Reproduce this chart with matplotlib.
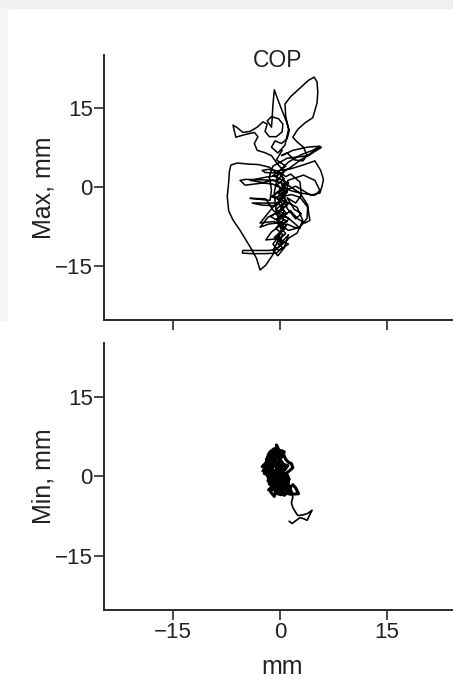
import numpy as np
import matplotlib.pyplot as plt
from matplotlib.patches import Rectangle

plt.rcParams['font.family'] = ['Liberation Sans', 'DejaVu Sans']

# centre-of-pressure trace, "Max" condition, (x, y) in mm
top_trace = [
    (0.3, 2.0), (0.8, 0.5), (-0.2, -1.0), (0.9, -2.5), (0.1, -4.0), (1.0, -5.0), (-0.5, -6.0),
    (0.6, -7.5), (-0.3, -9.0), (0.5, -10.5), (-0.6, -11.8), (-1.5, -12.0), (-3.5, -12.0),
    (-5.2, -12.0), (-5.3, -12.5), (-4.0, -12.6), (-2.0, -12.6), (-0.5, -12.5), (0.3, -11.5),
    (-0.2, -10.0), (0.8, -8.8), (0.0, -7.5), (1.0, -6.5), (-0.7, -5.0), (-1.7, -5.7),
    (-2.8, -7.6), (-1.6, -7.0), (-0.5, -6.8), (0.6, -4.5), (-0.2, -3.0), (-1.4, -3.0),
    (-3.9, -3.0), (-2.5, -3.4), (-0.5, -3.5), (0.5, -2.0), (-0.1, 0.0), (-1.0, 0.6),
    (-2.4, 0.8), (-4.9, 0.4), (-5.6, 1.3), (-4.8, 1.5), (-2.5, 1.4), (-0.3, 1.3), (0.6, 3.0),
    (-0.4, 4.5), (-1.2, 6.0), (-2.2, 6.6), (-3.2, 7.0), (-3.6, 8.3), (-3.1, 9.6),
    (-3.6, 10.4), (-4.9, 10.0), (-6.2, 9.5), (-6.6, 11.8), (-6.0, 11.3), (-5.2, 10.4),
    (-4.2, 10.6), (-3.2, 11.4), (-2.4, 12.4), (-1.8, 12.0), (-2.1, 10.6), (-1.5, 9.6),
    (-0.5, 9.6), (0.3, 10.5), (0.4, 12.0), (-0.2, 13.0), (-1.2, 13.4), (-1.8, 12.6),
    (-1.2, 11.4), (-1.1, 13.0), (-1.0, 15.5), (-0.8, 18.5), (-0.4, 17.0), (0.3, 14.5),
    (0.9, 12.5), (1.3, 10.8), (1.0, 9.2), (0.2, 8.3), (-0.7, 8.8), (-1.2, 7.6), (-0.3, 6.5),
    (0.7, 8.0), (1.2, 11.0), (0.8, 13.5), (0.7, 15.8), (1.5, 17.2), (2.8, 18.8), (4.0, 20.3),
    (4.8, 20.9), (5.2, 20.0), (5.3, 18.0), (5.2, 16.0), (4.6, 13.2), (3.5, 12.2), (2.5, 11.0),
    (1.8, 9.5), (2.4, 8.6), (3.3, 7.6), (3.8, 6.0), (3.2, 5.0), (2.0, 5.2), (1.0, 6.5),
    (0.2, 6.0), (1.8, 7.0), (3.8, 7.6), (5.6, 7.8), (4.6, 7.0), (3.0, 6.2), (1.2, 4.8),
    (0.0, 3.2), (1.5, 3.5), (3.2, 4.2), (4.9, 5.0), (5.7, 3.2), (6.1, 1.5), (5.9, 0.2),
    (5.6, -1.1), (4.3, -1.5), (3.2, -0.6), (2.2, 0.2), (1.1, -0.4), (0.2, -1.8), (1.6, -1.4),
    (2.8, -1.9), (3.9, -3.8), (4.2, -6.3), (3.5, -6.8), (2.5, -6.0), (1.5, -4.5), (0.3, -5.5),
    (1.0, -5.7), (2.0, -6.8), (2.8, -7.8), (2.0, -7.6), (1.0, -7.0), (0.1, -8.5), (-0.8, -9.5),
    (0.4, -10.2), (1.2, -9.0), (0.6, -11.5), (-0.3, -13.0), (-1.0, -12.0), (-0.5, -10.8),
    (0.2, -8.0), (-0.6, -4.0), (-0.8, -1.0), (-0.5, 1.0), (-0.3, 2.5), (-1.5, 3.8),
    (-3.0, 4.3), (-4.5, 4.4), (-6.0, 4.6), (-6.9, 4.2), (-7.1, 3.0), (-7.2, 1.0), (-7.4, -1.8),
    (-7.2, -4.5), (-6.6, -6.2), (-5.6, -8.2), (-4.2, -11.3), (-3.3, -13.5), (-2.8, -15.7),
    (-2.0, -14.8), (-1.4, -13.6), (-1.0, -12.8), (-0.7, -12.0), (0.3, -10.8), (-0.4, -9.2),
    (0.6, -8.0), (-0.3, -6.5), (0.8, -5.2), (-0.6, -4.2), (0.4, -3.2), (-0.5, -2.0),
    (0.7, -0.8), (-0.4, 0.5), (0.6, 1.6), (-0.2, 2.7), (-2.1, 2.8), (-2.5, 3.2), (-1.6, 3.4),
    (-0.3, 3.1), (0.8, 2.0), (1.5, 2.5), (2.8, 1.0), (3.0, -1.5), (2.2, -3.0), (1.0, -2.0),
    (2.0, -4.2), (3.0, -5.0), (2.2, -6.0), (1.0, -4.0), (0.2, 0.8), (1.0, -0.5), (-0.2, -1.5),
    (0.9, -3.5), (-0.2, -4.8), (0.5, -6.2), (-0.6, -7.8), (0.4, -9.0), (-0.4, -10.5),
    (0.0, -11.2), (1.4, -9.5), (2.4, -8.7), (3.2, -6.3), (2.4, -3.8), (0.4, -2.5), (-1.0, -1.6),
    (0.8, -0.2), (1.4, -0.6), (2.8, -1.1), (3.9, -3.4), (3.8, -5.9), (2.8, -7.6), (1.2, -8.2),
    (-0.8, -6.5), (-2.8, -6.8), (-1.0, -3.8), (1.0, -1.0), (1.1, 1.3), (3.3, 2.3), (4.9, 1.3),
    (5.6, -0.6), (4.9, -1.5), (2.8, -1.1), (1.0, 0.5), (-1.0, 1.3), (-2.4, 0.9), (-4.2, 1.3),
    (-2.0, 1.9), (-0.5, 2.2), (1.2, 3.5), (2.8, 5.1), (4.6, 6.7), (5.8, 7.6), (4.0, 6.0),
    (1.0, 5.5), (-1.0, 4.0), (-1.5, 2.0), (-1.2, -0.5), (-1.4, -2.5), (-4.2, -2.1),
    (-2.0, -2.2), (-0.9, -4.5), (1.3, -6.0), (-1.2, -8.5), (-2.0, -10.0), (-0.5, -9.8),
    (1.2, -10.8), (-0.2, -12.0), (-1.0, -10.8), (0.9, -7.2), (-1.3, -5.6), (1.3, -3.0),
    (-1.2, -1.8), (1.2, 0.8), (-1.0, 2.2), (0.8, 4.0), (-0.5, 5.2), (0.3, 7.0),
]

# centre-of-pressure trace, "Min" condition, (x, y) in mm: dense cluster, then its tail
bottom_blob = [
    (0.0, 1.0), (-1.0, 2.5), (-0.3, 4.0), (-0.5, 5.9), (0.1, 4.2), (0.6, 4.6), (0.2, 3.5),
    (-1.2, 3.8), (-1.8, 2.8), (-2.5, 1.8), (-1.9, 1.5), (-2.4, 1.0), (-1.6, 1.2), (-2.2, 0.5),
    (-1.0, 0.0), (-1.5, -1.5), (-0.6, -0.5), (-1.3, -3.0), (-0.8, -3.8), (-0.5, -2.0),
    (0.4, -1.0), (-0.2, 0.8), (0.8, 1.5), (0.2, 2.8), (-0.8, 1.8), (-1.9, 3.2), (-1.0, 4.6),
    (0.3, 4.8), (0.8, 3.2), (1.2, 2.6), (1.6, 2.4), (1.8, 1.6), (1.3, 1.0), (0.9, 0.6),
    (1.3, -0.6), (0.3, -1.8), (1.0, -2.6), (1.8, -1.6), (2.2, -2.2), (2.6, -3.3), (1.5, -3.4),
    (0.3, -3.0), (-0.9, -2.5), (-1.7, -0.8), (-0.7, 0.6), (-1.9, 1.9), (-1.2, 3.0), (-0.2, 2.0),
    (0.6, 0.2), (-0.4, -0.6), (-1.4, 0.8), (-0.5, 3.3), (0.5, 4.0), (-0.3, 5.0), (-1.6, 4.2),
    (-2.0, 2.2), (-1.0, 1.2), (0.1, -0.2), (-0.9, -1.2), (-0.2, -2.8), (0.8, -2.0), (1.2, -1.0),
    (0.4, 0.8), (1.1, 2.0), (0.0, 2.4), (-1.3, 2.0), (-1.8, 0.2), (-1.1, -2.0), (-1.6, -2.6),
    (-0.4, -1.4), (0.6, -1.2), (-0.1, 1.5), (-1.5, 2.6), (-0.6, 3.8), (-1.4, 4.6), (-0.8, 5.2),
    (0.0, 3.0), (-0.6, 1.0), (0.5, -0.5), (-0.6, -3.2), (0.2, -3.5), (1.0, -1.5), (-0.3, 0.3),
    (-1.2, -0.4), (-2.0, 1.2), (-1.3, 2.4), (-0.3, 3.6), (0.4, 2.2), (-0.7, -0.2), (0.2, -1.2),
    (1.5, -2.4), (0.6, -3.6), (-0.5, -1.0), (-1.4, 1.6), (-0.9, 3.4), (0.2, 1.6), (1.6, -3.0),
]
bottom_tail = [
    (1.6, -3.0), (1.8, -4.0), (1.6, -5.0), (1.8, -5.9), (2.2, -6.8), (2.5, -7.4), (3.2, -7.3),
    (3.9, -7.0), (4.5, -6.4), (4.2, -7.2), (3.8, -8.3), (3.3, -8.0), (2.8, -7.8), (2.2, -8.4),
    (1.7, -8.9), (1.3, -8.5),
]

ticks = [-15, 0, 15]
tick_labels = ['\u221215', '0', '15']
ink = '#2a2a2a'
txt = '#222222'

fig = plt.figure(figsize=(4.53, 6.79), dpi=100)
# faint grey margin of the scanned page
fig.patches.append(Rectangle((0, 1 - 8 / 679), 1, 8 / 679, transform=fig.transFigure,
                             color='#f0f0f0', zorder=-1))
fig.patches.append(Rectangle((0, 1 - 320 / 679), 7 / 453, 312 / 679, transform=fig.transFigure,
                             color='#f6f6f6', zorder=-1))

ax1 = fig.add_axes([104 / 453, 359 / 679, 352 / 453, 265 / 679])
ax2 = fig.add_axes([104 / 453, 69 / 679, 352 / 453, 267 / 679])

tx, ty = np.array(top_trace).T
ax1.plot(tx, ty, color='black', lw=1.1, solid_joinstyle='round')
bx, by = np.array(bottom_blob).T
ax2.plot(bx, by, color='black', lw=2.2, solid_joinstyle='round')
lx, ly = np.array(bottom_tail).T
ax2.plot(lx, ly, color='black', lw=1.2, solid_joinstyle='round')

for ax, lab in ((ax1, 'Max, mm'), (ax2, 'Min, mm')):
    ax.set_facecolor('none')
    ax.set_xlim(-24.7, 24.7)
    ax.set_ylim(-25.2, 25.1)
    ax.spines['top'].set_visible(False)
    ax.spines['right'].set_visible(False)
    for s in ('left', 'bottom'):
        ax.spines[s].set_linewidth(1.4)
        ax.spines[s].set_color(ink)
    ax.set_xticks(ticks)
    ax.set_yticks(ticks)
    ax.set_yticklabels(tick_labels)
    ax.tick_params(direction='out', length=7, width=1.2, color=ink, labelcolor=txt,
                   labelsize=16, pad=1)
    ax.set_ylabel(lab, fontsize=18, color=txt)
    ax.yaxis.set_label_coords(-0.139, 0.5)

ax1.tick_params(axis='x', labelbottom=False)
ax2.set_xticklabels(tick_labels)
ax2.tick_params(axis='x', pad=2)

fig.text(282 / 453, 5 / 679, 'mm', ha='center', va='baseline', fontsize=18, color=txt)
fig.text(278 / 453, 1 - 67 / 679, 'COP', ha='center', va='baseline', fontsize=16.5, color=txt)

fig.savefig('out.png', dpi=100, facecolor='white')
